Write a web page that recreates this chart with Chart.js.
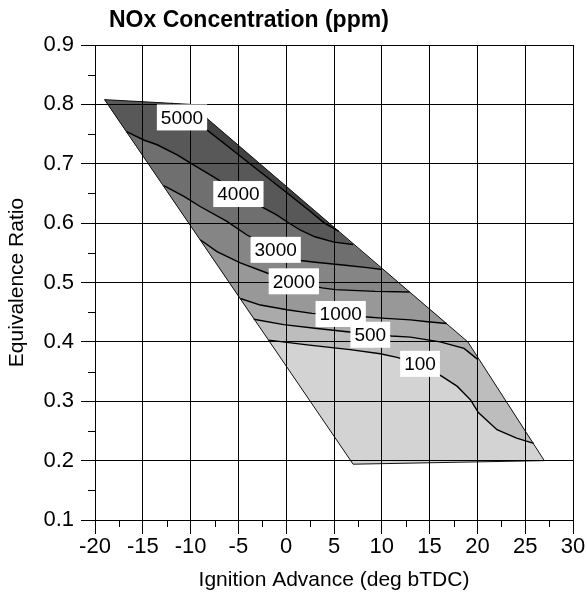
<!DOCTYPE html>
<html>
<head>
<meta charset="utf-8">
<title>NOx Concentration (ppm)</title>
<script src="https://cdn.jsdelivr.net/npm/chart.js@4.4.1/dist/chart.umd.min.js"></script>
<style>
  html, body { margin: 0; padding: 0; background: #fff; }
  #wrap { width: 587px; height: 596px; }
</style>
</head>
<body>
<div id="wrap"><canvas id="noxChart"></canvas></div>
<script>
// tick values
const xTicks = [-20, -15, -10, -5, 0, 5, 10, 15, 20, 25, 30];
const xMinorTicks = [-17.5, -12.5, -7.5, -2.5, 2.5, 7.5, 12.5, 17.5, 22.5, 27.5];
const yTicks = [0.1, 0.2, 0.3, 0.4, 0.5, 0.6, 0.7, 0.8, 0.9];
const yMinorTicks = [0.15, 0.25, 0.35, 0.45, 0.55, 0.65, 0.75, 0.85];

// outline of the mapped area (upper side left->right, then lower side back)
const upperEdgeX = [-19, -10, 19, 27];
const upperEdgeY = [0.808, 0.800, 0.400, 0.200];
const lowerEdgeX = [7, -19];
const lowerEdgeY = [0.194, 0.808];

// contour levels, ppm
const levels = [100, 500, 1000, 2000, 3000, 4000, 5000];

// contour lines
const line100X = [-1.84, 2.2, 6.7, 9.84, 11.6, 14.0, 16.3, 17.9, 19.3, 20.1, 22.05, 24.1, 25.9];
const line100Y = [0.403, 0.395, 0.387, 0.380, 0.374, 0.362, 0.342, 0.325, 0.302, 0.281, 0.252, 0.238, 0.229];
const line500X = [-3.4, -0.27, 3.0, 6.36, 8.8, 11.0, 13.0, 16.1, 18.6, 20.0];
const line500Y = [0.438, 0.429, 0.423, 0.417, 0.413, 0.410, 0.408, 0.400, 0.389, 0.371];
const line1000X = [-4.8, -2.7, 0.08, 2.7, 5.7, 8.5, 10.0, 13.0, 14.8, 16.8];
const line1000Y = [0.473, 0.462, 0.454, 0.448, 0.445, 0.442, 0.440, 0.437, 0.434, 0.431];
const line2000X = [-9.0, -7.24, -4.8, -2.0, 0.8, 3.75, 5.13, 9.3, 12.9];
const line2000Y = [0.572, 0.552, 0.533, 0.516, 0.502, 0.491, 0.488, 0.485, 0.484];
const line3000X = [-12.8, -10.7, -9.0, -6.2, -4.1, -1.2, 1.5, 3.04, 6.18, 8.5, 10.0];
const line3000Y = [0.663, 0.645, 0.628, 0.603, 0.580, 0.556, 0.537, 0.534, 0.529, 0.525, 0.522];
const line4000X = [-16.7, -14.9, -13.5, -11.4, -10.0, -7.6, -5.0, -2.5, -1.0, 0.2, 1.5, 3.0, 5.0, 7.0];
const line4000Y = [0.754, 0.740, 0.732, 0.715, 0.701, 0.678, 0.652, 0.627, 0.614, 0.601, 0.588, 0.577, 0.568, 0.564];
const line5000X = [-12.0, -10.0, -8.3, -5.85, -3.0, 0.0, 2.5, 4.0, 5.5];
const line5000Y = [0.802, 0.780, 0.757, 0.726, 0.690, 0.652, 0.620, 0.600, 0.586];

// where each level is labelled
const labelX = [14.0, 8.8, 5.7, 0.8, -1.1, -5.0, -10.9];
const labelY = [0.363, 0.412, 0.447, 0.502, 0.555, 0.649, 0.778];

// grey shade for each band, lowest first
const bandColors = ['#d3d3d3', '#bdbdbd', '#aaaaaa', '#989898', '#858585', '#6f6f6f', '#585858', '#424242'];

const FONT = "'Liberation Sans', Arial, Helvetica, sans-serif";

const contourX = [line100X, line500X, line1000X, line2000X, line3000X, line4000X, line5000X];
const contourY = [line100Y, line500Y, line1000Y, line2000Y, line3000Y, line4000Y, line5000Y];

function toPoints(xs, ys) {
    return xs.map((x, i) => ({ x: x, y: ys[i] }));
}

// area above a contour line: the line itself, then back along the upper edge
function aboveLine(xs, ys) {
    const pts = toPoints(xs, ys);
    const xEnd = xs[xs.length - 1];
    for (let i = upperEdgeX.length - 1; i >= 0; i--) {
        if (upperEdgeX[i] < xEnd) pts.push({ x: upperEdgeX[i], y: upperEdgeY[i] });
    }
    return pts;
}

const outline = toPoints(upperEdgeX, upperEdgeY).concat(toPoints(lowerEdgeX, lowerEdgeY));

const datasets = [];

// base region
datasets.push({
    data: outline,
    showLine: true,
    fill: 'shape',
    backgroundColor: bandColors[0],
    borderColor: 'rgba(0,0,0,0)',
    borderWidth: 0,
    pointRadius: 0,
    order: 30
});

// darker bands painted on top, one per level
levels.forEach((lvl, i) => {
    datasets.push({
        data: aboveLine(contourX[i], contourY[i]),
        showLine: true,
        fill: 'shape',
        backgroundColor: bandColors[i + 1],
        borderColor: 'rgba(0,0,0,0)',
        borderWidth: 0,
        pointRadius: 0,
        order: 29 - i
    });
});

// the contour lines
levels.forEach((lvl, i) => {
    datasets.push({
        data: toPoints(contourX[i], contourY[i]),
        showLine: true,
        fill: false,
        borderColor: '#000',
        borderWidth: 1.4,
        pointRadius: 0,
        order: 5
    });
});

// outline of the region
datasets.push({
    data: outline.concat([outline[0]]),
    showLine: true,
    fill: false,
    borderColor: '#111',
    borderWidth: 1,
    pointRadius: 0,
    order: 4
});

const minorTicks = {
    id: 'minorTicks',
    afterDraw(chart) {
        const { ctx, chartArea, scales } = chart;
        ctx.save();
        ctx.strokeStyle = '#000';
        ctx.lineWidth = 1;
        ctx.beginPath();
        xMinorTicks.forEach(v => {
            const px = Math.round(scales.x.getPixelForValue(v)) + 0.5;
            ctx.moveTo(px, chartArea.bottom);
            ctx.lineTo(px, chartArea.bottom + 7);
        });
        yMinorTicks.forEach(v => {
            const py = Math.round(scales.y.getPixelForValue(v)) + 0.5;
            ctx.moveTo(chartArea.left - 7, py);
            ctx.lineTo(chartArea.left, py);
        });
        ctx.stroke();
        ctx.restore();
    }
};

const contourLabels = {
    id: 'contourLabels',
    afterDraw(chart) {
        const { ctx, scales } = chart;
        ctx.save();
        ctx.font = '19px ' + FONT;
        ctx.textAlign = 'center';
        ctx.textBaseline = 'middle';
        levels.forEach((lvl, i) => {
            const px = scales.x.getPixelForValue(labelX[i]);
            const py = scales.y.getPixelForValue(labelY[i]);
            const text = String(lvl);
            const w = ctx.measureText(text).width + 8;
            const h = 26;
            ctx.fillStyle = '#fff';
            ctx.fillRect(px - w / 2, py - h / 2, w, h);
            ctx.fillStyle = '#000';
            ctx.fillText(text, px, py + 1);
        });
        ctx.restore();
    }
};

const chartTitle = {
    id: 'chartTitle',
    afterDraw(chart) {
        const ctx = chart.ctx;
        ctx.save();
        ctx.font = 'bold 23px ' + FONT;
        ctx.fillStyle = '#000';
        ctx.textAlign = 'left';
        ctx.textBaseline = 'alphabetic';
        ctx.fillText('NOx Concentration (ppm)', 109, 27);
        ctx.restore();
    }
};

const ctx = document.getElementById('noxChart').getContext('2d');
const noxChart = new Chart(ctx, {
    type: 'scatter',
    data: { datasets: datasets },
    options: {
        responsive: true,
        maintainAspectRatio: false,
        animation: false,
        layout: { padding: { top: 45, left: 0, right: 14, bottom: 0 } },
        plugins: {
            legend: { display: false },
            tooltip: { enabled: false }
        },
        elements: { line: { tension: 0 } },
        scales: {
            x: {
                type: 'linear',
                min: -20,
                max: 30,
                afterBuildTicks: s => { s.ticks = xTicks.map(v => ({ value: v })); },
                afterFit: s => { s.height = 76; },
                grid: { color: '#000', lineWidth: 1, tickLength: 14, z: 1 },
                border: { color: '#000', width: 1, z: 1 },
                ticks: {
                    color: '#000',
                    padding: 0,
                    maxRotation: 0,
                    autoSkip: false,
                    font: { family: FONT, size: 22 },
                    callback: v => String(v)
                },
                title: {
                    display: true,
                    text: 'Ignition Advance (deg bTDC)',
                    color: '#000',
                    font: { family: FONT, size: 21 },
                    padding: { top: 0, bottom: 3 }
                }
            },
            y: {
                type: 'linear',
                min: 0.1,
                max: 0.9,
                afterBuildTicks: s => { s.ticks = yTicks.map(v => ({ value: v })); },
                afterFit: s => { s.width = 95; },
                grid: { color: '#000', lineWidth: 1, tickLength: 14, z: 1 },
                border: { color: '#000', width: 1, z: 1 },
                ticks: {
                    color: '#000',
                    padding: 7,
                    font: { family: FONT, size: 22 },
                    callback: v => v.toFixed(1)
                },
                title: {
                    display: true,
                    text: 'Equivalence Ratio',
                    color: '#000',
                    font: { family: FONT, size: 21 },
                    padding: { top: 5, bottom: 0 }
                }
            }
        }
    },
    plugins: [minorTicks, contourLabels, chartTitle]
});
</script>
</body>
</html>
